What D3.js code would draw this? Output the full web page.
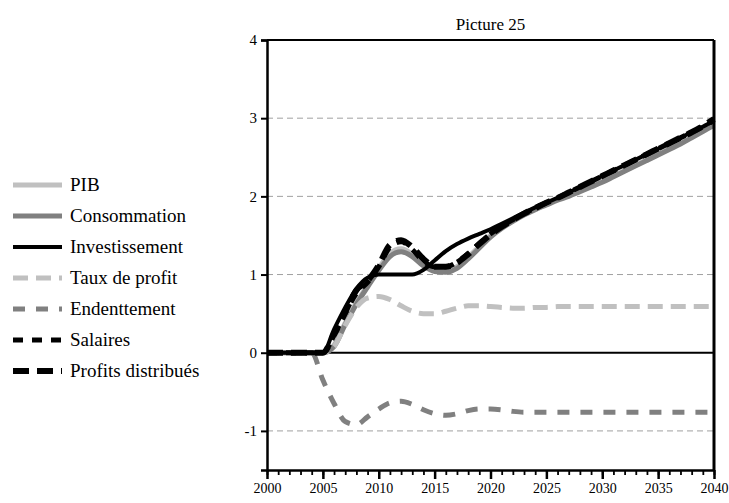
<!DOCTYPE html>
<html>
<head>
<meta charset="utf-8">
<script src="https://d3js.org/d3.v7.min.js"></script>
</head>
<body style="margin:0; background:#fff">
<div class="chart"></div>
<script>
// Years on the x-axis
const years = d3.range(2000, 2041);

// Series values, one per year (2000 -> 2040)
const pib = [0, 0, 0, 0, 0, 0, 0.1, 0.38, 0.64, 0.86, 1.08, 1.27, 1.33, 1.26, 1.13, 1.05, 1.04, 1.1, 1.22, 1.36,
    1.5, 1.6, 1.69, 1.77, 1.84, 1.9, 1.96, 2.01, 2.07, 2.13, 2.19, 2.26, 2.33, 2.4, 2.47, 2.54, 2.61, 2.68, 2.76, 2.84, 2.92];
const consommation = [0, 0, 0, 0, 0, 0, 0.08, 0.36, 0.62, 0.84, 1.05, 1.23, 1.29, 1.23, 1.11, 1.04, 1.03, 1.08, 1.2, 1.34,
    1.48, 1.59, 1.68, 1.76, 1.83, 1.89, 1.95, 2.0, 2.06, 2.12, 2.18, 2.25, 2.32, 2.39, 2.46, 2.53, 2.6, 2.67, 2.75, 2.83, 2.91];
const investissement = [0, 0, 0, 0, 0, 0, 0.3, 0.58, 0.82, 0.96, 1.0, 1.0, 1.0, 1.0, 1.06, 1.18, 1.3, 1.39, 1.46, 1.52,
    1.58, 1.65, 1.72, 1.79, 1.86, 1.92, 1.98, 2.05, 2.12, 2.19, 2.26, 2.33, 2.4, 2.47, 2.54, 2.61, 2.68, 2.75, 2.82, 2.89, 2.97];
const tauxProfit = [0, 0, 0, 0, 0, 0, 0.08, 0.35, 0.58, 0.7, 0.72, 0.68, 0.6, 0.53, 0.5, 0.5, 0.53, 0.57, 0.6, 0.6,
    0.59, 0.58, 0.57, 0.57, 0.58, 0.58, 0.59, 0.59, 0.59, 0.59, 0.59, 0.59, 0.59, 0.59, 0.59, 0.59, 0.59, 0.59, 0.59, 0.59, 0.59];
const endettement = [0, 0, 0, 0, 0, -0.35, -0.65, -0.88, -0.92, -0.82, -0.72, -0.64, -0.62, -0.66, -0.73, -0.78, -0.8, -0.78, -0.74, -0.72,
    -0.72, -0.73, -0.75, -0.76, -0.76, -0.76, -0.76, -0.76, -0.76, -0.76, -0.76, -0.76, -0.76, -0.76, -0.76, -0.76, -0.76, -0.76, -0.76, -0.76, -0.76];
const salaires = [0, 0, 0, 0, 0, 0, 0.22, 0.5, 0.76, 0.9, 1.1, 1.35, 1.42, 1.32, 1.17, 1.1, 1.1, 1.16, 1.27, 1.4,
    1.52, 1.62, 1.7, 1.78, 1.85, 1.92, 1.98, 2.05, 2.12, 2.19, 2.26, 2.33, 2.4, 2.47, 2.54, 2.61, 2.68, 2.75, 2.82, 2.89, 2.97];
const profitsDistribues = [0, 0, 0, 0, 0, 0, 0.24, 0.52, 0.8, 0.92, 1.12, 1.38, 1.44, 1.35, 1.2, 1.1, 1.1, 1.15, 1.26, 1.39,
    1.51, 1.61, 1.7, 1.78, 1.85, 1.92, 1.98, 2.05, 2.12, 2.19, 2.26, 2.33, 2.4, 2.47, 2.54, 2.61, 2.68, 2.75, 2.82, 2.9, 2.99];

// Tick values
const yTicks = [-1, 0, 1, 2, 3, 4];
const xTicks = d3.range(2000, 2041, 5);

const FONT = "Liberation Serif";

// Series table with styles
const series = [
    { name: "PIB", values: pib, color: "#c0c0c0", width: 5, dash: null },
    { name: "Consommation", values: consommation, color: "#808080", width: 5, dash: null },
    { name: "Investissement", values: investissement, color: "#000", width: 4, dash: null },
    { name: "Taux de profit", values: tauxProfit, color: "#c0c0c0", width: 5, dash: "15,8" },
    { name: "Endenttement", values: endettement, color: "#808080", width: 5, dash: "12,11" },
    { name: "Salaires", values: salaires, color: "#000", width: 5, dash: "10,9" },
    { name: "Profits distribués", values: profitsDistribues, color: "#000", width: 6, dash: "16,8" }
];

const svg = d3.select(".chart")
    .append("svg")
    .attr("width", 729)
    .attr("height", 503)
    .attr("font-family", FONT);

const xScale = d3.scaleLinear().domain([2000, 2040]).range([267, 714]);
const yScale = d3.scaleLinear().domain([-1.5, 4]).range([470, 40]);

// Dashed grid lines
svg.append("g")
    .selectAll("line")
    .data([-1, 1, 2, 3])
    .enter()
    .append("line")
    .attr("x1", xScale(2000))
    .attr("x2", xScale(2040))
    .attr("y1", d => yScale(d))
    .attr("y2", d => yScale(d))
    .attr("stroke", "#a0a0a0")
    .attr("stroke-width", 1)
    .attr("stroke-dasharray", "6,4");

// Zero line
svg.append("line")
    .attr("x1", xScale(2000))
    .attr("x2", xScale(2040))
    .attr("y1", yScale(0))
    .attr("y2", yScale(0))
    .attr("stroke", "#000")
    .attr("stroke-width", 2);

// Line generator
const line = d3.line()
    .x((d, i) => xScale(years[i]))
    .y(d => yScale(d))
    .curve(d3.curveMonotoneX);

svg.append("g")
    .selectAll("path")
    .data(series)
    .enter()
    .append("path")
    .attr("fill", "none")
    .attr("stroke", d => d.color)
    .attr("stroke-width", d => d.width)
    .attr("stroke-dasharray", d => d.dash)
    .attr("d", d => line(d.values));

// Frame: top and right lines
svg.append("line")
    .attr("x1", xScale(2000)).attr("x2", xScale(2040))
    .attr("y1", yScale(4)).attr("y2", yScale(4))
    .attr("stroke", "#000").attr("stroke-width", 2);
svg.append("line")
    .attr("x1", xScale(2040)).attr("x2", xScale(2040))
    .attr("y1", yScale(4)).attr("y2", yScale(-1.5))
    .attr("stroke", "#000").attr("stroke-width", 3);

// Y axis
const yAxis = svg.append("g")
    .attr("transform", `translate(${xScale(2000)},0)`)
    .call(d3.axisLeft(yScale).tickValues(yTicks).tickSize(6).tickPadding(4).tickFormat(d => String(d)));
yAxis.attr("font-family", FONT).attr("font-size", 15);
yAxis.select(".domain").attr("stroke-width", 2.5);
yAxis.selectAll(".tick line").attr("stroke-width", 2);

// X axis: minor ticks every year
const xAxis = svg.append("g")
    .attr("transform", `translate(0,${yScale(-1.5)})`)
    .call(d3.axisBottom(xScale).tickValues(years).tickSize(5).tickSizeOuter(0).tickFormat(""));
xAxis.select(".domain").attr("stroke-width", 2.5);
xAxis.selectAll(".tick line").attr("stroke-width", 1.8);

// X axis: major ticks and labels
const xMajor = svg.append("g")
    .attr("transform", `translate(0,${yScale(-1.5)})`)
    .call(d3.axisBottom(xScale).tickValues(xTicks).tickSize(9).tickSizeOuter(0).tickPadding(4).tickFormat(d => String(d)));
xMajor.attr("font-family", FONT).attr("font-size", 14);
xMajor.select(".domain").remove();
xMajor.selectAll(".tick line").attr("stroke-width", 2.5);

// Title
svg.append("text")
    .attr("x", (xScale(2000) + xScale(2040)) / 2)
    .attr("y", 30)
    .attr("text-anchor", "middle")
    .attr("font-family", FONT)
    .attr("font-size", 17)
    .text("Picture 25");

// Legend
const legend = svg.append("g")
    .selectAll("g")
    .data(series)
    .enter()
    .append("g")
    .attr("transform", (d, i) => `translate(13,${185 + i * 31})`);

legend.append("line")
    .attr("x1", 0)
    .attr("x2", 49)
    .attr("stroke", d => d.color)
    .attr("stroke-width", d => d.width)
    .attr("stroke-dasharray", d => d.dash);

legend.append("text")
    .attr("x", 57)
    .attr("y", 6)
    .attr("font-family", FONT)
    .attr("font-size", 19)
    .text(d => d.name);
</script>
</body>
</html>
